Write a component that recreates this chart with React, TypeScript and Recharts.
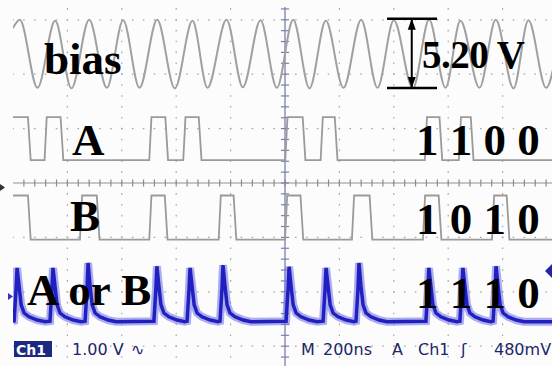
import { ComposedChart, Line, XAxis, YAxis, ReferenceLine, ReferenceDot } from 'recharts'

// scope screen: 200 ns/div across, levels in divisions down the screen
const timeDomain: [number, number] = [-1000, 1000]
const levelDomain: [number, number] = [-3.364, 3.235]
const gridTimes = [-800, -600, -400, -200, 200, 400, 600, 800]
const gridLevels = [-3, -2, -1, 1, 2, 3]

// bias: start, then alternating peak / trough, end
const biasTimes = [-1000, -975, -910, -845, -785, -720, -655, -595, -535, -470, -405, -340, -285, -215, -155, -90, -30, 30, 90, 150, 215, 280, 340, 400, 470, 530, 590, 645, 715, 775, 840, 895, 960, 1000]
const biasLevels = [2.85, 3.0, 1.75, 2.98, 1.74, 3.0, 1.75, 2.99, 1.75, 3.0, 1.74, 2.98, 1.75, 3.0, 1.76, 2.99, 1.75, 3.0, 1.74, 2.98, 1.75, 3.0, 1.75, 2.99, 1.74, 3.0, 1.75, 2.98, 1.75, 3.0, 1.74, 2.99, 1.75, 2.45]

// A = 1100 pulses (ns)
const aRise = [-1000, -880, -495, -370, 5, 135, 518, 643]
const aFall = [-940, -820, -435, -312, 70, 188, 573, 688]
const aLevels: [number, number] = [0.42, 1.21]

// B = 1010 pulses (ns)
const bRise = [-1000, -750, -495, -240, 4, 250, 511, 765]
const bFall = [-940, -687, -437, -184, 62, 316, 570, 820]
const bLevels: [number, number] = [-1.04, -0.23]

// A or B = 1110 spikes
const orBase = -2.55
const orPeakTimes = [-985, -853, -724, -471, -349, -228, 15, 151, 272, 529, 654, 776]
const orPeakLevels = [-1.56, -1.56, -1.47, -1.53, -1.56, -1.51, -1.54, -1.56, -1.47, -1.56, -1.56, -1.53]
const spikeOffsets = [-11, -4, 0, 7, 15, 26, 44, 74, 103]
const spikeShape: (number | null)[] = [-2.54, -1.97, null, -1.88, -2.24, -2.39, -2.46, -2.52, -2.55]

// 5.20 V marker
const markTime = 466
const markSpan: [number, number] = [375, 559]
const markLevels: [number, number] = [1.746, 3.02]

const minorTimes = Array.from({ length: 49 }, (_, i) => -960 + i * 40)
const minorLevels = Array.from({ length: 33 }, (_, i) => Math.round((-3.2 + i * 0.2) * 10) / 10)

const biasData = biasTimes.map((t, i) => ({ t, v: biasLevels[i] }))

function pulseTrain(rise: number[], fall: number[], [low, high]: [number, number]) {
  const pts: { t: number; v: number }[] = []
  if (rise[0] > -1000) pts.push({ t: -1000, v: low })
  rise.forEach((r, i) => {
    if (r <= -1000) pts.push({ t: -1000, v: high })
    else pts.push({ t: r - 4, v: low }, { t: r + 4, v: high })
    pts.push({ t: fall[i] - 5, v: high }, { t: fall[i] + 5, v: low })
  })
  pts.push({ t: 1000, v: low })
  return pts
}

const aData = pulseTrain(aRise, aFall, aLevels)
const bData = pulseTrain(bRise, bFall, bLevels)

const orData: { t: number; v: number }[] = [{ t: -1000, v: orBase }]
orPeakTimes.forEach((p, i) => {
  spikeOffsets.forEach((o, j) => {
    orData.push({ t: p + o, v: spikeShape[j] ?? orPeakLevels[i] })
  })
})
orData.push({ t: 1000, v: orBase })

const gray = '#9a9a9a'
const dots = { stroke: '#a6a6a6', strokeWidth: 1.2, strokeDasharray: '1.6 9.28' }
const serif = { fontFamily: '"Liberation Serif", "Times New Roman", serif', fontWeight: 700, fill: '#000' }
const status = { fontFamily: '"DejaVu Sans", sans-serif', fontSize: 16, fill: '#1c2668' }

const ArrowUp = (p: any) => <polygon points={`${p.cx},${p.cy} ${p.cx - 4},${p.cy + 11} ${p.cx + 4},${p.cy + 11}`} fill="#000" />
const ArrowDown = (p: any) => <polygon points={`${p.cx},${p.cy} ${p.cx - 4},${p.cy - 11} ${p.cx + 4},${p.cy - 11}`} fill="#000" />

export default function App() {
  return (
    <div style={{ position: 'absolute', left: 0, top: 0, width: 552, height: 366, overflow: 'hidden', background: '#fcfcfc' }}>
      <ComposedChart width={557} height={366} margin={{ top: 7, right: 0, bottom: 0, left: 13 }}>
        <XAxis type="number" dataKey="t" domain={timeDomain} allowDataOverflow hide />
        <YAxis
          type="number"
          domain={levelDomain}
          allowDataOverflow
          ticks={minorLevels}
          width={0}
          mirror
          tick={false}
          tickSize={4}
          axisLine={{ stroke: '#5a5a5a', strokeWidth: 1.5 }}
          tickLine={{ stroke: '#6a6a6a' }}
        />

        {gridTimes.map((t) => (
          <ReferenceLine key={`gx${t}`} segment={[{ x: t, y: levelDomain[1] }, { x: t, y: levelDomain[0] }]} {...dots} strokeDashoffset={-1.1} />
        ))}
        {gridLevels.map((v) => (
          <ReferenceLine key={`gy${v}`} segment={[{ x: -1000, y: v }, { x: 1000, y: v }]} {...dots} strokeDashoffset={0.8} />
        ))}
        <ReferenceLine x={0} stroke="#7b7fae" strokeWidth={1.3} />
        <ReferenceLine y={0} stroke="#8f8f8f" strokeWidth={1.2} />
        {minorTimes.map((t) => (
          <ReferenceLine key={`mx${t}`} segment={[{ x: t, y: -0.065 }, { x: t, y: 0.065 }]} stroke="#8a8a8a" strokeWidth={1.2} />
        ))}
        {minorLevels.map((v) => (
          <ReferenceLine key={`my${v}`} segment={[{ x: -15, y: v }, { x: 15, y: v }]} stroke="#7b7fae" strokeWidth={1.2} />
        ))}

        <Line data={biasData} dataKey="v" type="monotone" stroke="#a0a0a0" strokeWidth={2} dot={false} activeDot={false} isAnimationActive={false} />
        <Line data={aData} dataKey="v" type="linear" stroke={gray} strokeWidth={1.8} dot={false} activeDot={false} isAnimationActive={false} />
        <Line data={bData} dataKey="v" type="linear" stroke={gray} strokeWidth={1.8} dot={false} activeDot={false} isAnimationActive={false} />
        <Line data={orData} dataKey="v" type="linear" stroke="#7777e4" strokeOpacity={0.6} strokeWidth={8} dot={false} activeDot={false} isAnimationActive={false} />
        <Line data={orData} dataKey="v" type="linear" stroke="#2020c0" strokeWidth={3.5} dot={false} activeDot={false} isAnimationActive={false} />

        {markLevels.map((v) => (
          <ReferenceLine key={`mk${v}`} segment={[{ x: markSpan[0], y: v }, { x: markSpan[1], y: v }]} stroke="#000" strokeWidth={2.5} />
        ))}
        <ReferenceLine segment={[{ x: markTime, y: markLevels[0] }, { x: markTime, y: markLevels[1] }]} stroke="#000" strokeWidth={2} />
        <ReferenceDot x={markTime} y={markLevels[1]} shape={ArrowUp} />
        <ReferenceDot x={markTime} y={markLevels[0]} shape={ArrowDown} />
      </ComposedChart>

      <svg width={552} height={366} style={{ position: 'absolute', left: 0, top: 0, pointerEvents: 'none' }}>
        <text x={44} y={74} fontSize={45} {...serif}>bias</text>
        <text x={72} y={155} fontSize={45} {...serif}>A</text>
        <text x={70} y={231} fontSize={45} {...serif}>B</text>
        <text x={27} y={305} fontSize={45} {...serif}>A or B</text>
        <text x={422} y={68} fontSize={39} {...serif} letterSpacing={-0.5}>5.20 V</text>
        <text x={416} y={155} fontSize={45} {...serif} style={{ whiteSpace: 'pre' }}>1 1 0 0</text>
        <text x={416} y={234} fontSize={45} {...serif} style={{ whiteSpace: 'pre' }}>1 0 1 0</text>
        <text x={416} y={308} fontSize={45} {...serif} style={{ whiteSpace: 'pre' }}>1 1 1 0</text>

        <polygon points="552,264 545,271 552,278" fill="#2323a8" />
        <polygon points="8,293 13,296.5 8,300" fill="#3434c0" />
        <polygon points="0,184 5,187.5 0,191" fill="#333" />

        <rect x={14} y={341} width={38} height={16} fill="#1b2a80" />
        <text x={16} y={355} {...status} fill="#fff" fontWeight={700} fontSize={14}>Ch1</text>
        <text x={72} y={355} {...status}>1.00 V</text>
        <text x={131} y={355} {...status}>∿</text>
        <text x={301} y={355} {...status}>M</text>
        <text x={323} y={355} {...status}>200ns</text>
        <text x={392} y={355} {...status}>A</text>
        <text x={418} y={355} {...status}>Ch1</text>
        <text x={461} y={355} {...status}>ʃ</text>
        <text x={494} y={355} {...status}>480mV</text>
      </svg>
    </div>
  )
}
